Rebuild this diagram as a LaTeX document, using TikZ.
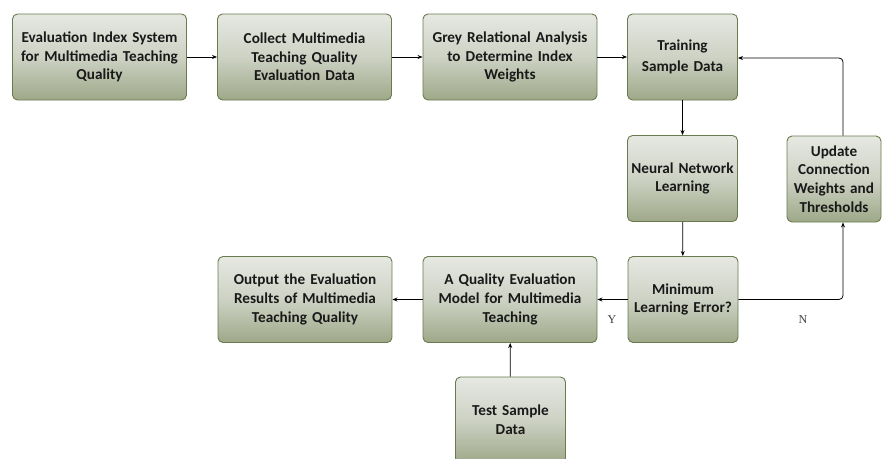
\documentclass[tikz,border=0pt]{standalone}
\usepackage{fontspec}
\setmainfont{Carlito}
\usetikzlibrary{arrows.meta,calc}
\definecolor{boxtop}{RGB}{230,232,226}
\definecolor{boxbot}{RGB}{158,168,136}
\definecolor{boxline}{RGB}{105,122,78}
\definecolor{txt}{RGB}{25,25,25}
\tikzset{
  stepbox/.style={draw=boxline, line width=0.9pt, rounded corners=5pt,
    top color=boxtop, bottom color=boxbot, middle color={rgb,255:red,205;green,210;blue,196},
    shading angle=0, inner sep=2pt, align=center, text=txt,
    font=\fontsize{15.2}{18.6}\selectfont\bfseries, minimum height=86pt},
  conn/.style={draw=black, line width=0.8pt, -{Stealth[length=5pt,width=4pt]}},
  yn/.style={font=\fontspec{Liberation Serif}\fontsize{12}{14}\selectfont, text=black!75}
}
\begin{document}
\begin{tikzpicture}[x=1pt,y=-1pt]
\useasboundingbox (0,0) rectangle (886,458);
\begin{scope}
\clip (0,0) rectangle (886,458);
\node[stepbox, minimum width=173pt, text width=170pt] (b1) at (99.5,57) {Evaluation Index System\\for Multimedia Teaching\\Quality};
\node[stepbox, minimum width=173pt, text width=170pt] (b2) at (304.5,57) {Collect Multimedia\\Teaching Quality\\Evaluation Data};
\node[stepbox, minimum width=174pt, text width=170pt] (b3) at (510,57) {Grey Relational Analysis\\to Determine Index\\Weights};
\node[stepbox, minimum width=109pt, text width=106pt] (b4) at (682.5,57) {Training\\[2pt]Sample Data};
\node[stepbox, minimum width=109pt, text width=106pt] (b5) at (682.5,178.5) {Neural Network\\Learning};
\node[stepbox, minimum width=92pt, text width=90pt] (b6) at (834,179) {Update\\Connection\\Weights and\\Thresholds};
\node[stepbox, minimum width=109pt, text width=106pt] (b7) at (683,299.5) {Minimum\\Learning Error?};
\node[stepbox, minimum width=174pt, text width=170pt] (b8) at (510,299.5) {A Quality Evaluation\\Model for Multimedia\\Teaching};
\node[stepbox, minimum width=174pt, text width=170pt] (b9) at (305,299.5) {Output the Evaluation\\Results of Multimedia\\Teaching Quality};
\node[stepbox, minimum width=109pt, text width=106pt] (b10) at (510.5,420) {Test Sample\\Data};
\end{scope}
\coordinate (ctop) at (843,58);
\coordinate (cbot) at (843,299.5);
\draw[conn] (b1) -- (b2);
\draw[conn] (b2) -- (b3);
\draw[conn] (b3) -- (b4);
\draw[conn] (b4) -- (b5);
\draw[conn] (b5) -- (b7);
\draw[conn] (b7) -- (b8);
\draw[conn] (b8) -- (b9);
\draw[conn] (b10) -- (b8);
\draw[conn, rounded corners=4pt] (b7.east) -- (cbot) -- (b6.south -| cbot);
\draw[conn, rounded corners=4pt] (b6.north -| ctop) -- (ctop) -- (b4.east |- ctop);
\node[yn] (ly) at (612,320) {Y};
\node[yn] (ln) at (803,320) {N};
\end{tikzpicture}
\end{document}
